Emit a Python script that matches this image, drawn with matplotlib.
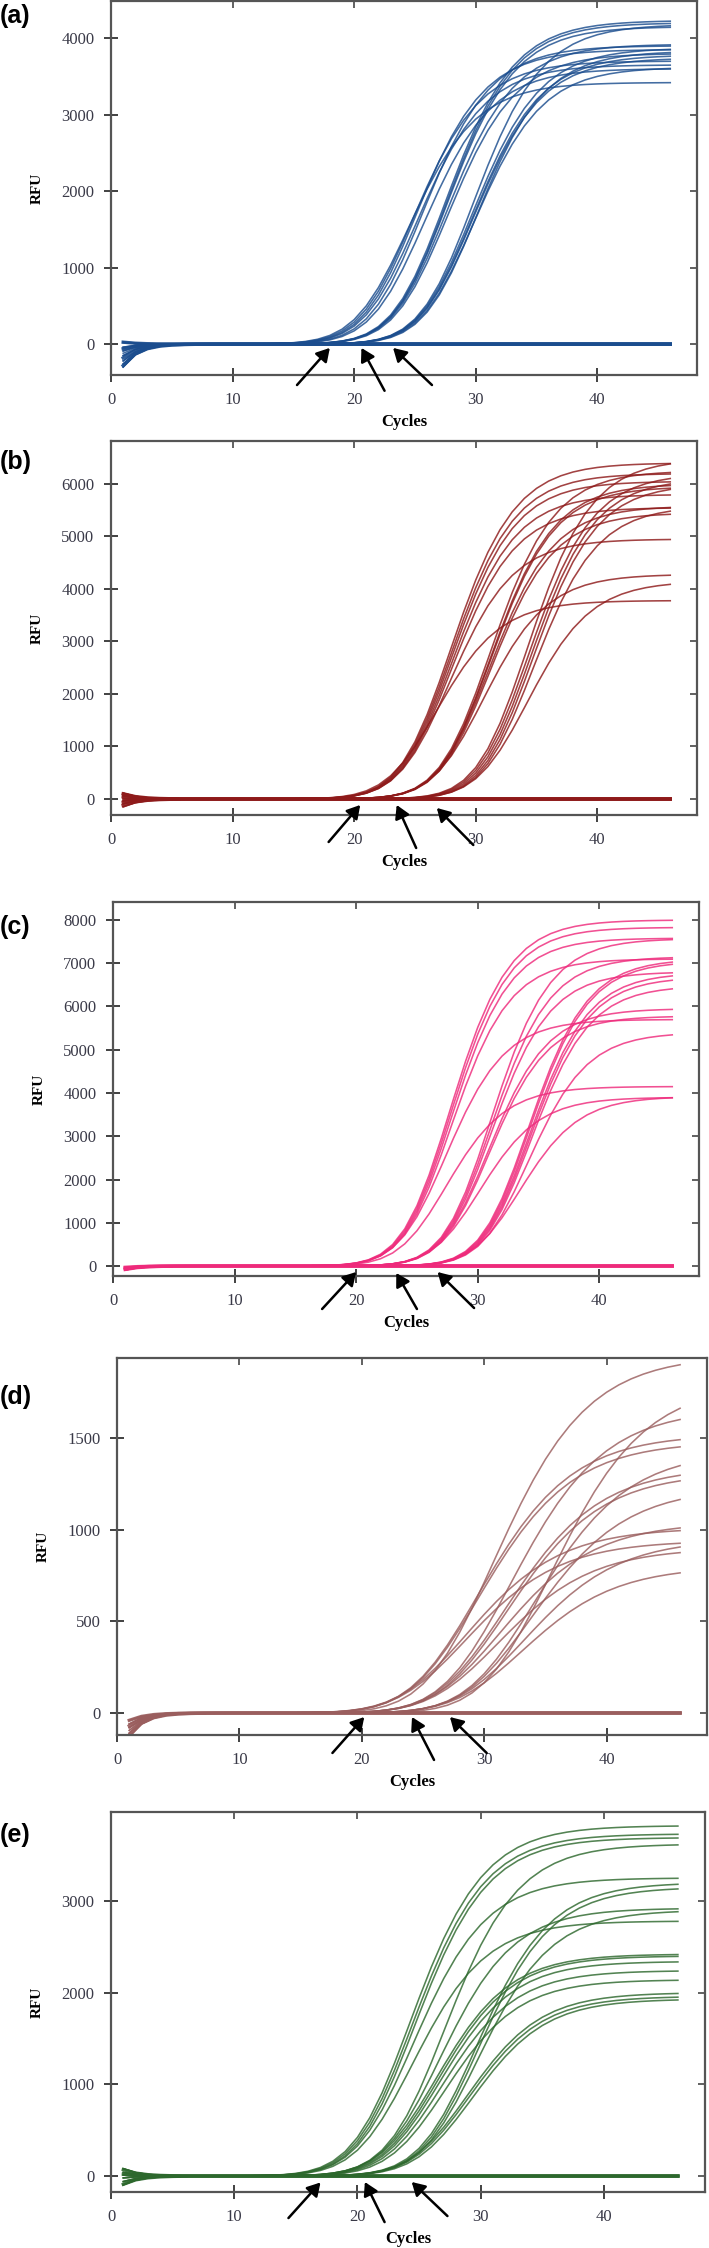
import numpy as np
import matplotlib
matplotlib.use('Agg')
import matplotlib.pyplot as plt

W, H = 709, 2248

cycles = np.arange(1, 47)
x_ticks = [0, 10, 20, 30, 40]

# Each amplification curve: cycle where it crosses the panel threshold (ct) and its plateau RFU

# ---- panel (a) ---- threshold 500 RFU
a_ct = [21.0, 21.2, 21.4, 21.6, 21.9, 22.2,
        23.6, 23.7, 23.75, 23.85, 24.0,
        25.9, 26.0, 26.1, 26.15, 26.3, 26.4]
a_top = [3420, 3700, 3850, 3650, 3900, 3600,
         4230, 4200, 4150, 3920, 3800,
         4180, 3870, 3780, 3740, 3620, 3830]
a_start = [-300, -220, -150, -90, -40, 20, -260, -120, 30, -60]   # RFU at cycle 1
a_ntc = [-280, -180, -60, 25]
a_yticks = [0, 1000, 2000, 3000, 4000]
a_arrow_tip = [(18.0, -50), (20.6, -50), (23.2, -50)]
a_arrow_tail = [(15.3, -535), (22.5, -610), (26.4, -535)]

# ---- panel (b) ---- threshold 1000 RFU
b_ct = [24.8, 24.9, 25.0, 25.1, 25.2, 25.3, 25.0,
        28.1, 28.2, 28.25, 28.3, 28.4, 28.5,
        31.1, 31.3, 31.5, 31.7, 31.9, 32.2]
b_top = [6400, 6200, 6050, 5800, 5550, 4950, 3780,
         6250, 6000, 5950, 5580, 5450, 4280,
         6480, 6200, 6100, 6000, 5580, 4150]
b_start = [110, 60, 10, -40, -90, -150, 80, -20]
b_ntc = [100, -120, 40, -60]
b_yticks = [0, 1000, 2000, 3000, 4000, 5000, 6000]
b_arrow_tip = [(20.5, -114), (23.5, -114), (26.8, -171)]
b_arrow_tail = [(17.9, -819), (25.1, -933), (29.8, -876)]

# ---- panel (c) ---- threshold 1000 RFU
c_ct = [24.3, 24.4, 24.5, 24.6, 24.7, 25.5,
        27.8, 27.9, 28.0, 28.1, 28.2, 28.4,
        31.0, 31.1, 31.2, 31.3, 31.4, 31.6, 31.7]
c_top = [8000, 7830, 7580, 7100, 5700, 4150,
         7570, 7150, 6800, 5950, 5780, 3900,
         7100, 7050, 6780, 6680, 6480, 5400, 3920]
c_start = [-60, -90, -40, -75, -50]
c_ntc = [-80, -50, -30]
c_yticks = [0, 1000, 2000, 3000, 4000, 5000, 6000, 7000, 8000]
c_arrow_tip = [(20.0, -139), (23.3, -162), (26.7, -139)]
c_arrow_tail = [(17.2, -994), (25.0, -994), (29.7, -971)]

# ---- panel (d) ---- threshold 200 RFU
d_ct = [25.0, 25.1, 25.3, 25.5, 25.6,
        27.4, 27.6, 27.8, 28.0, 28.3,
        30.5, 29.8, 30.0, 30.3, 30.7]
d_top = [1520, 1480, 1010, 940, 1950,
         1660, 1340, 1310, 1040, 900,
         1800, 1430, 1230, 950, 800]
d_start = [-110, -80, -60, -40, -130, -95]
d_ntc = [-120, -70, -40]
d_yticks = [0, 500, 1000, 1500]
d_arrow_tip = [(20.2, -22), (24.1, -22), (27.2, -22)]
d_arrow_tail = [(17.6, -218), (25.9, -256), (30.2, -218)]

# ---- panel (e) ---- threshold 500 RFU
e_ct = [20.4, 20.6, 20.8, 21.0, 21.4,
        23.3, 23.5, 23.7, 23.9, 24.1, 24.4, 24.8,
        26.2, 26.4, 26.6, 26.8, 27.0, 27.3]
e_top = [3820, 3730, 3690, 3250, 2780,
         3620, 2920, 2420, 2400, 2340, 2240, 2140,
         3200, 3150, 2900, 2000, 1960, 1930]
e_start = [80, 40, -20, -60, -95, 10]
e_ntc = [70, -90, 20]
e_yticks = [0, 1000, 2000, 3000]
e_arrow_tip = [(17.0, -70), (20.6, -65), (24.4, -65)]
e_arrow_tail = [(14.4, -458), (22.2, -502), (27.3, -436)]

panels = [
    dict(label='(a)', ct=a_ct, top=a_top, start=a_start, ntc=a_ntc, yticks=a_yticks,
         tips=a_arrow_tip, tails=a_arrow_tail, color='#1b4d8e', thr=500, s=3.0, g=2.1,
         ylim=(-404, 4485), box=(111, 697, 1, 375), label_y=16),
    dict(label='(b)', ct=b_ct, top=b_top, start=b_start, ntc=b_ntc, yticks=b_yticks,
         tips=b_arrow_tip, tails=b_arrow_tail, color='#8e1a1a', thr=1000, s=2.8, g=2.0,
         ylim=(-305, 6819), box=(111, 697, 441, 815), label_y=462),
    dict(label='(c)', ct=c_ct, top=c_top, start=c_start, ntc=c_ntc, yticks=c_yticks,
         tips=c_arrow_tip, tails=c_arrow_tail, color='#ee2a7b', thr=1000, s=2.6, g=2.0,
         ylim=(-231, 8416), box=(113, 699, 902, 1276), label_y=927),
    dict(label='(d)', ct=d_ct, top=d_top, start=d_start, ntc=d_ntc, yticks=d_yticks,
         tips=d_arrow_tip, tails=d_arrow_tail, color='#9a5e5e', thr=200, s=4.2, g=3.0,
         ylim=(-120, 1936), box=(117, 707, 1358, 1735), label_y=1397),
    dict(label='(e)', ct=e_ct, top=e_top, start=e_start, ntc=e_ntc, yticks=e_yticks,
         tips=e_arrow_tip, tails=e_arrow_tail, color='#2d682d', thr=500, s=3.2, g=2.2,
         ylim=(-174, 3969), box=(111, 705, 1812, 2192), label_y=1835),
]

serif = 'Liberation Serif'


def amp_curve(ct, top, thr, s, g):
    # asymmetric sigmoid passing through (ct, thr) and levelling off at top
    m = ct + s * np.log((top / thr) ** (1 / g) - 1)
    return top / (1 + np.exp(-(cycles - m) / s)) ** g


def draw_panel(fig, p):
    l, r, t, b = p['box']
    ax = fig.add_axes([l / W, 1 - b / H, (r - l) / W, (b - t) / H])
    fade = np.exp(-(cycles - 1) / 1.3)

    # flat (no amplification) wells
    for st in p['ntc']:
        ax.plot(cycles, st * fade, color=p['color'], lw=2.4, alpha=0.9)
    for i, (ct, tp) in enumerate(zip(p['ct'], p['top'])):
        st = p['start'][i % len(p['start'])]
        y = amp_curve(ct, tp, p['thr'], p['s'], p['g']) + st * fade
        ax.plot(cycles, y, color=p['color'], lw=1.15, alpha=0.82)

    ax.set_xlim(0, 48.2)
    ax.set_ylim(*p['ylim'])
    ax.set_xticks(x_ticks)
    ax.set_yticks(p['yticks'])
    ax.tick_params(direction='inout', length=10, width=1.3, color='#333333',
                   labelsize=12, pad=7, labelcolor='#3a3a48')
    for lab in ax.get_xticklabels() + ax.get_yticklabels():
        lab.set_fontfamily(serif)
    for sp in ax.spines.values():
        sp.set_color('#555555')
        sp.set_linewidth(1.6)

    # short inward ticks on top and right
    top_ax = ax.secondary_xaxis('top')
    top_ax.set_xticks(x_ticks)
    top_ax.tick_params(direction='in', length=5, width=1.3, color='#555555', labeltop=False)
    right_ax = ax.secondary_yaxis('right')
    right_ax.set_yticks(p['yticks'])
    right_ax.tick_params(direction='in', length=5, width=1.3, color='#555555', labelright=False)
    for sec in (top_ax, right_ax):
        for sp in sec.spines.values():
            sp.set_visible(False)

    ax.annotate('Cycles', xy=(0.5, 0), xycoords='axes fraction', xytext=(0, -34),
                textcoords='offset points', ha='center', va='center',
                fontsize=12, fontweight='bold', family=serif)
    ax.annotate('RFU', xy=(0, 0.5), xycoords='axes fraction', xytext=(-53, 0),
                textcoords='offset points', ha='center', va='center', rotation=90,
                fontsize=11, fontweight='bold', family=serif)

    for tip, tail in zip(p['tips'], p['tails']):
        ax.annotate('', xy=tip, xytext=tail, annotation_clip=False,
                    arrowprops=dict(arrowstyle='-|>,head_length=0.6,head_width=0.35',
                                    mutation_scale=13, color='black', lw=1.8,
                                    shrinkA=0, shrinkB=0))

    fig.text(0, 1 - p['label_y'] / H, p['label'], ha='left', va='center',
             fontsize=18, fontweight='bold', family='Liberation Sans')
    return ax


fig = plt.figure(figsize=(W / 100, H / 100), dpi=100)
fig.patch.set_facecolor('white')
for p in panels:
    draw_panel(fig, p)

fig.savefig('out.png', dpi=100)
